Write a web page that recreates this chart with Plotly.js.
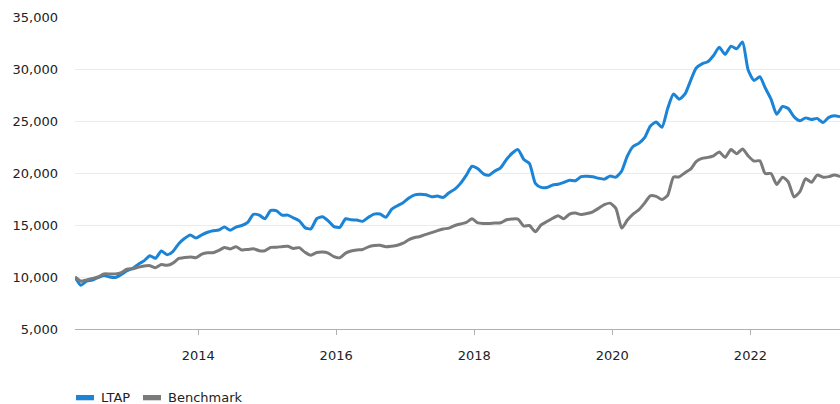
<!DOCTYPE html>
<html>
<head>
<meta charset="utf-8">
<script src="https://cdn.plot.ly/plotly-3.0.1.min.js"></script>
<style>html,body{margin:0;padding:0;background:#fff;}#chart{width:840px;height:404px;}</style>
</head>
<body>
<div id="chart"></div>
<script>
// Monthly observations, first month = March 2012, last = April 2023
const startYear = 2012;
const startMonth = 3; // March
const seriesNames = ["LTAP", "Benchmark"];
const seriesColors = ["#1b84d6", "#7a7a7a"];

const ltap = [
  10000, 9200, 9600, 9700, 9950, 10150, 10000, 9950, 10250, 10600,
  10830, 11250, 11550, 12050, 11800, 12500, 12150, 12450, 13200, 13700,
  14050, 13750, 14050, 14300, 14450, 14520, 14800, 14500, 14800, 14950,
  15250, 16020, 15950, 15600, 16400, 16350, 15950, 15950, 15690, 15400,
  14750, 14630, 15600, 15790, 15400, 14850, 14780, 15600, 15500, 15470,
  15350, 15750, 16050, 16050, 15750, 16500, 16850, 17150, 17600, 17900,
  17960, 17900, 17720, 17780, 17650, 18100, 18450, 19000, 19800, 20650,
  20400, 19900, 19790, 20200, 20500, 21300, 21900, 22250, 21300, 20900,
  19000, 18620, 18610, 18850, 18920, 19100, 19310, 19250, 19650, 19680,
  19630, 19500, 19410, 19700, 19600, 20200, 21600, 22550, 22850, 23400,
  24500, 24900, 24400, 26200, 27600, 27100, 27600, 28950, 30100, 30500,
  30700, 31300, 32100, 31400, 32200, 31950, 32600, 29900, 28900, 29250,
  28200, 27100, 25650, 26400, 26200, 25400, 25030, 25300, 25150, 25250,
  24850, 25350, 25500, 25400
];

const benchmark = [
  10000, 9600, 9720, 9850, 10000, 10290, 10290, 10300, 10430, 10750,
  10800, 10950, 11050, 11090, 10900, 11200, 11120, 11330, 11780, 11870,
  11930, 11850, 12200, 12330, 12330, 12550, 12840, 12700, 12900, 12600,
  12650, 12720, 12530, 12530, 12850, 12870, 12920, 12950, 12740, 12820,
  12370, 12100, 12350, 12400, 12300, 11950, 11850, 12300, 12500, 12600,
  12650, 12900, 13020, 13050, 12900, 12950, 13050, 13250, 13600, 13800,
  13900, 14100, 14270, 14460, 14620, 14700, 14950, 15100, 15250, 15600,
  15200, 15150, 15150, 15200, 15210, 15500, 15570, 15570, 14900, 14950,
  14350, 15000, 15330, 15650, 15900, 15600, 16050, 16150, 16000, 16100,
  16270, 16600, 16950, 17100, 16600, 14700, 15450, 16050, 16450, 17100,
  17800, 17750, 17450, 17850, 19600, 19630, 20030, 20400, 21100, 21400,
  21500, 21650, 22030, 21500, 22250, 21850, 22300, 21650, 21150, 21170,
  19950, 19950, 18900, 19600, 19150, 17700, 18200, 19450, 19100, 19800,
  19600, 19650, 19800, 19650
];

const yTicks = [5000, 10000, 15000, 20000, 25000, 30000, 35000];

// build monthly date labels
const dates = ltap.map((_, k) => {
  const d = new Date(Date.UTC(startYear, startMonth - 1 + k, 20));
  return d.toISOString().slice(0, 10);
});

const font = "DejaVu Sans, Verdana, sans-serif";

const traces = [
  {
    x: dates, y: ltap, name: seriesNames[0], type: "scatter", mode: "lines",
    line: {color: seriesColors[0], width: 3, shape: "spline", smoothing: 0.6}
  },
  {
    x: dates, y: benchmark, name: seriesNames[1], type: "scatter", mode: "lines",
    line: {color: seriesColors[1], width: 3, shape: "spline", smoothing: 0.6}
  }
];

// custom legend (compact swatches) below the plot, paper coordinates
const legendItems = [
  {sx0: 0.0013, sx1: 0.0248, tx: 0.0314},
  {sx0: 0.0889, sx1: 0.1124, tx: 0.1189}
];
const shapes = legendItems.map((it, i) => ({
  type: "rect", xref: "paper", yref: "paper",
  x0: it.sx0, x1: it.sx1, y0: -0.2115, y1: -0.2285,
  fillcolor: seriesColors[i], line: {width: 0}
}));
const annotations = legendItems.map((it, i) => ({
  xref: "paper", yref: "paper", x: it.tx, y: -0.221,
  xanchor: "left", yanchor: "middle", showarrow: false,
  text: seriesNames[i], font: {family: font, size: 13, color: "#222"}
}));

const layout = {
  width: 840, height: 404,
  margin: {l: 75, r: 0, t: 17, b: 75},
  paper_bgcolor: "#ffffff",
  plot_bgcolor: "#ffffff",
  font: {family: font, size: 13, color: "#222"},
  showlegend: false,
  shapes: shapes,
  annotations: annotations,
  xaxis: {
    type: "date",
    range: [dates[0], dates[dates.length - 1]],
    showgrid: false,
    zeroline: false,
    showline: true, linecolor: "#b0b0b0", linewidth: 1,
    ticks: "outside", ticklen: 5, tickcolor: "#b0b0b0",
    dtick: "M24", tick0: "2014-01-01", tickformat: "%Y",
    tickfont: {family: font, size: 13, color: "#222"},
    ticklabelstandoff: 9
  },
  yaxis: {
    range: [5000, 35000],
    tickvals: yTicks,
    tickformat: ",d",
    showgrid: true, gridcolor: "#ececec", gridwidth: 1,
    zeroline: false, showline: false,
    ticks: "",
    tickfont: {family: font, size: 13, color: "#222"},
    ticklabelstandoff: 16
  }
};

Plotly.newPlot("chart", traces, layout, {displayModeBar: false, staticPlot: true});
</script>
</body>
</html>
